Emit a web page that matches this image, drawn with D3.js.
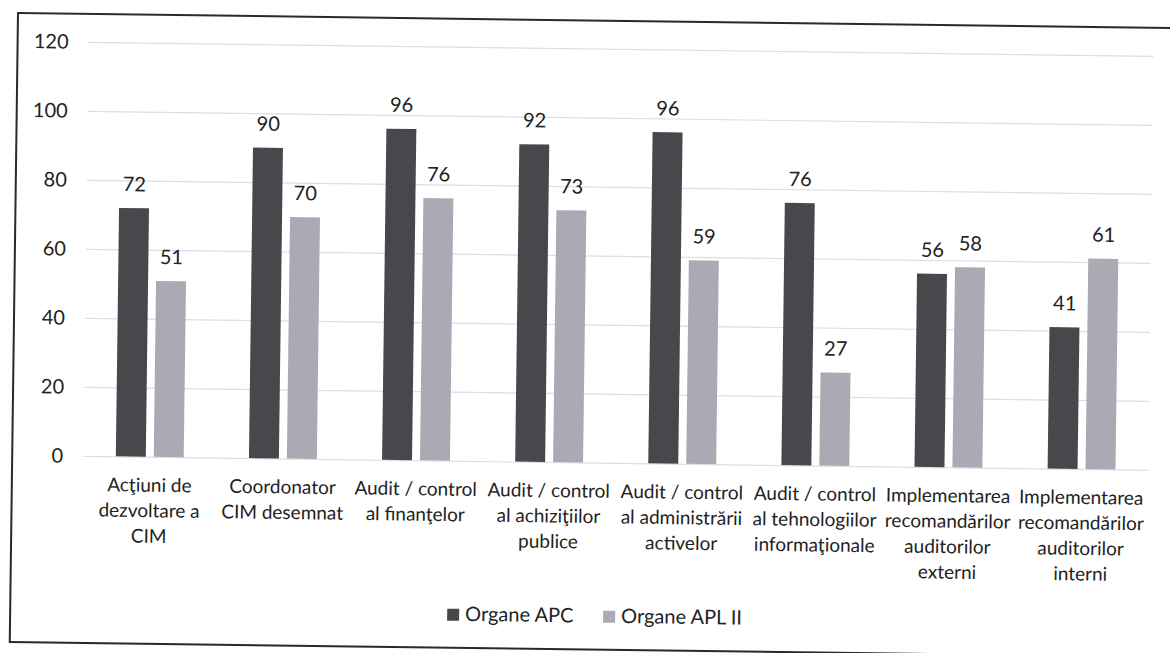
<!DOCTYPE html>
<html><head><meta charset="utf-8">
<script src="https://cdn.jsdelivr.net/npm/d3@7"></script>
<style>html,body{margin:0;padding:0;background:#fff;}svg{display:block;}</style>
</head><body>
<svg id="chart" width="1170" height="653"></svg>
<script>
const categories = [
  ["Acţiuni de","dezvoltare a","CIM"],
  ["Coordonator","CIM desemnat"],
  ["Audit / control","al finanţelor"],
  ["Audit / control","al achiziţiilor","publice"],
  ["Audit / control","al administrării","activelor"],
  ["Audit / control","al tehnologiilor","informaţionale"],
  ["Implementarea","recomandărilor","auditorilor","externi"],
  ["Implementarea","recomandărilor","auditorilor","interni"]
];
const seriesNames = ["Organe APC", "Organe APL II"];
const apcValues = [72, 90, 96, 92, 96, 76, 56, 41];
const aplValues = [51, 70, 76, 73, 59, 27, 58, 61];
const yTicks = [0, 20, 40, 60, 80, 100, 120];

const colors = ["#48474c", "#aba9b3"];
const font = "Lato, 'Open Sans', sans-serif";

const svg = d3.select("#chart");
const root = svg.append("g").attr("transform", "rotate(0.75,18,13)");

// frame
root.append("rect").attr("x", 18).attr("y", 13).attr("width", 1220).attr("height", 629)
  .attr("fill", "#fff").attr("stroke", "#2a2a2a").attr("stroke-width", 2);

const plot = {left: 89, right: 1154, top: 41, bottom: 455};
const y = d3.scaleLinear().domain([0, 120]).range([plot.bottom, plot.top]);
const x0 = d3.scaleBand().domain(d3.range(categories.length)).range([plot.left, plot.right])
  .paddingInner(0.49).paddingOuter(0.245);
const x1 = d3.scaleBand().domain([0, 1]).range([0, x0.bandwidth()]).paddingInner(0.21).paddingOuter(0);
const full = d3.scaleBand().domain(d3.range(categories.length)).range([plot.left, plot.right]);

// gridlines via axis
const yAxis = d3.axisLeft(y).tickValues(yTicks).tickSize(-(plot.right - plot.left)).tickPadding(20);
const gy = root.append("g").attr("transform", `translate(${plot.left},0)`).call(yAxis);
gy.select(".domain").remove();
gy.selectAll(".tick line").attr("stroke", "#e0dbe4").attr("stroke-width", 1.2);
gy.selectAll(".tick text").attr("font-family", font).attr("font-size", 20).attr("fill", "#222");

// bars
const series = [apcValues, aplValues];
const groups = root.append("g").selectAll("g").data(categories).join("g")
  .attr("transform", (d, i) => `translate(${x0(i)},0)`);
series.forEach((vals, s) => {
  groups.append("rect")
    .attr("x", x1(s)).attr("width", x1.bandwidth())
    .attr("y", (d, i) => y(vals[i])).attr("height", (d, i) => y(0) - y(vals[i]))
    .attr("fill", colors[s]);
  groups.append("text")
    .attr("x", x1(s) + x1.bandwidth() / 2)
    .attr("y", (d, i) => y(vals[i]) - 17)
    .attr("text-anchor", "middle")
    .attr("font-family", font).attr("font-size", 20).attr("fill", "#222")
    .text((d, i) => vals[i]);
});

// category labels
const xAxisG = root.append("g");
categories.forEach((lines, i) => {
  const t = xAxisG.append("text")
    .attr("x", full(i) + full.bandwidth() / 2)
    .attr("y", 490)
    .attr("text-anchor", "middle")
    .attr("font-family", font).attr("font-size", 19).attr("fill", "#222");
  lines.forEach((ln, k) => {
    t.append("tspan").attr("x", full(i) + full.bandwidth() / 2).attr("y", 490 + k * 25.5).text(ln);
  });
});

// legend
const legendX = [455, 611];
seriesNames.forEach((name, s) => {
  root.append("rect").attr("x", legendX[s]).attr("y", 603).attr("width", 12).attr("height", 12)
    .attr("fill", colors[s]);
  root.append("text").attr("x", legendX[s] + 18).attr("y", 615)
    .attr("font-family", font).attr("font-size", 20).attr("fill", "#222").text(name);
});
</script>
</body></html>
